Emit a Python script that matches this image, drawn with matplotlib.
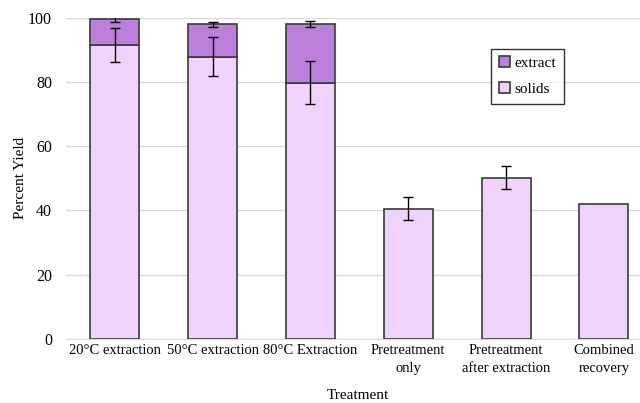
import numpy as np
import matplotlib.pyplot as plt

plt.rcParams['font.family'] = ['Liberation Serif', 'DejaVu Serif']

treatments = ['20°C extraction', '50°C extraction', '80°C Extraction',
              'Pretreatment\nonly', 'Pretreatment\nafter extraction', 'Combined\nrecovery']
solids = [91.6, 87.9, 79.8, 40.5, 50.2, 42.0]
solids_err = [5.3, 6.1, 6.7, 3.6, 3.6, 0]
extract = [8.1, 10.2, 18.3, 0, 0, 0]
extract_err = [1.0, 0.8, 1.0, 0, 0, 0]

fig = plt.figure(figsize=(6.4, 4.03), dpi=100)
ax = fig.add_axes([0.103, 0.1596, 0.917, 0.7954])

x = np.arange(len(treatments))
edge = '#3a3a3a'
ax.bar(x, solids, width=0.5, color='#F0D3FC', edgecolor=edge, linewidth=1.2, label='solids', zorder=2)
ax.bar(x[:3], extract[:3], width=0.5, bottom=solids[:3], color='#BC80DC', edgecolor=edge,
       linewidth=1.2, label='extract', zorder=2)

# error bars
se = np.array(solids_err)
m = se > 0
ax.errorbar(x[m], np.array(solids)[m], yerr=se[m], fmt='none', ecolor='black',
            elinewidth=1, capsize=3.5, capthick=1, zorder=3)
tot = np.array(solids) + np.array(extract)
ax.errorbar(x[:3], tot[:3], yerr=extract_err[:3], fmt='none', ecolor='black',
            elinewidth=1, capsize=3.5, capthick=1, zorder=3)

ax.set_xlim(-0.5, 5.5)
ax.set_ylim(0, 100)
ax.set_yticks(range(0, 101, 20))
ax.set_xticks(x)
ax.set_xticklabels(treatments, fontsize=10.5, linespacing=1.45)
ax.tick_params(axis='y', labelsize=11.5, length=0, pad=10)
ax.tick_params(axis='x', length=0, pad=4)
ax.grid(axis='y', color='#d9d9d9', linewidth=1, zorder=0)
ax.set_axisbelow(True)
for s in ['top', 'right', 'left']:
    ax.spines[s].set_visible(False)
ax.spines['bottom'].set_color('#d9d9d9')
ax.spines['bottom'].set_zorder(1)

ax.set_ylabel('Percent Yield', fontsize=11)
ax.yaxis.set_label_coords(-0.067, 0.5)
ax.set_xlabel('Treatment', fontsize=11)
ax.xaxis.set_label_coords(0.497, -0.158)

h, l = ax.get_legend_handles_labels()
leg = ax.legend(h[::-1], l[::-1], loc='upper left', bbox_to_anchor=(0.712, 0.928),
                fontsize=11, frameon=True, fancybox=False, edgecolor='black',
                handlelength=0.7, handleheight=0.7, handletextpad=0.3,
                labelspacing=0.8, borderpad=0.5)
leg.get_frame().set_linewidth(1)

fig.savefig('out.png', dpi=100)
